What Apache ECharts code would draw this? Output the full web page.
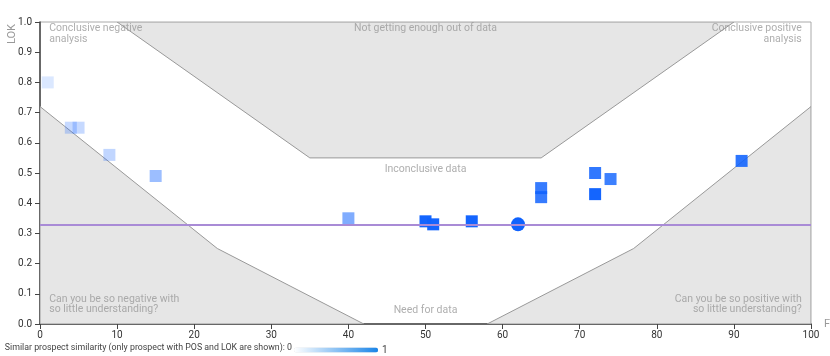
<!DOCTYPE html>
<html>
<head>
<meta charset="utf-8">
<script src="https://cdn.jsdelivr.net/npm/echarts@6/dist/echarts.min.js"></script>
<style>
  html, body { margin: 0; padding: 0; background: #fff; }
  #chart { width: 830px; height: 356px; }
</style>
</head>
<body>
<div id="chart"></div>
<script>
// 相似项目：F、LOK、相似度
const fValues = [1, 4, 5, 9, 15, 40, 50, 51, 56, 65, 65, 72, 74, 72, 91]
const lokValues = [0.80, 0.65, 0.65, 0.56, 0.49, 0.35, 0.34, 0.33, 0.34, 0.45, 0.42, 0.50, 0.48, 0.43, 0.54]
const similarity = [0.15, 0.24, 0.24, 0.26, 0.41, 0.53, 0.98, 0.98, 0.98, 0.84, 0.84, 0.86, 0.81, 0.98, 0.88]

// 当前项目
const prospect = [62, 0.33]
const lokThreshold = 0.33

// 区域多边形（F, LOK）
const regionTop = [[10, 1], [35, 0.55], [65, 0.55], [90, 1]]
const regionBottomLeft = [[0, 0.72], [23, 0.25], [42, 0], [0, 0]]
const regionBottomRight = [[100, 0.72], [77, 0.25], [58, 0], [100, 0]]
const regions = [regionTop, regionBottomLeft, regionBottomRight]

// 区域说明文字
const regionLabels = [
  { value: [1.2, 0.996], text: 'Conclusive negative\nanalysis', align: 'left', vAlign: 'top' },
  { value: [50, 0.996], text: 'Not getting enough out of data', align: 'center', vAlign: 'top' },
  { value: [98.8, 0.996], text: 'Conclusive positive\nanalysis', align: 'right', vAlign: 'top' },
  { value: [50, 0.511], text: 'Inconclusive data', align: 'center', vAlign: 'middle' },
  { value: [1.2, 0.03], text: 'Can you be so negative with\nso little understanding?', align: 'left', vAlign: 'bottom' },
  { value: [50, 0.045], text: 'Need for data', align: 'center', vAlign: 'middle' },
  { value: [98.8, 0.03], text: 'Can you be so positive with\nso little understanding?', align: 'right', vAlign: 'bottom' }
]

const fontFamily = 'Roboto, "Noto Sans", sans-serif'

const pointData = fValues.map((f, i) => [f, lokValues[i], similarity[i]])

const chart = echarts.init(document.getElementById('chart'))
const option = {
  animation: false,
  textStyle: { fontFamily: fontFamily },
  grid: {
    left: 40,
    right: 19,
    top: 22,
    bottom: 32,
    outerBoundsMode: 'none',
    containLabel: false,
    show: true,
    borderColor: '#aaa',
    borderWidth: 1
  },
  xAxis: {
    type: 'value',
    min: 0,
    max: 100,
    interval: 10,
    name: 'F',
    nameLocation: 'end',
    nameGap: 13,
    nameTextStyle: { color: '#999', fontSize: 11 },
    axisLine: { lineStyle: { color: '#444', width: 1.5 } },
    axisTick: { show: true, length: 5, lineStyle: { color: '#444' } },
    axisLabel: { color: '#333', fontSize: 10, margin: 6 },
    splitLine: { show: false }
  },
  yAxis: {
    type: 'value',
    min: 0,
    max: 1,
    interval: 0.1,
    axisLine: { show: true, lineStyle: { color: '#444', width: 1.5 } },
    axisTick: { show: true, length: 5, lineStyle: { color: '#444' } },
    axisLabel: {
      color: '#333',
      fontSize: 10,
      margin: 8,
      formatter: v => v.toFixed(1)
    },
    splitLine: { show: false }
  },
  visualMap: {
    type: 'continuous',
    seriesIndex: 2,
    dimension: 2,
    min: 0,
    max: 1,
    orient: 'horizontal',
    left: 279,
    bottom: -14,
    itemWidth: 5,
    itemHeight: 84,
    text: ['1', ''],
    textGap: 4,
    calculable: false,
    textStyle: { color: '#444', fontSize: 10 },
    inRange: { color: ['#0f62fe', '#0f62fe'], opacity: [0, 1] },
    controller: {
      inRange: { color: ['#ffffff', '#1a85e8'], opacity: [1, 1], symbolSize: [5, 5] }
    }
  },
  graphic: [
    {
      type: 'text',
      x: 292,
      y: 348,
      style: {
        text: 'Similar prospect similarity (only prospect with POS and LOK are shown): 0',
        fill: '#444',
        font: '8.8px ' + fontFamily,
        align: 'right',
        verticalAlign: 'middle'
      }
    },
    {
      type: 'text',
      x: 12,
      y: 34,
      rotation: Math.PI / 2,
      style: {
        text: 'LOK',
        fill: '#999',
        font: '11px ' + fontFamily,
        align: 'center',
        verticalAlign: 'middle'
      }
    }
  ],
  series: [
    {
      type: 'custom',
      z: 1,
      clip: true,
      data: regions.map((r, i) => i),
      renderItem: function (params, api) {
        const points = regions[params.dataIndex].map(p => api.coord(p))
        return {
          type: 'polygon',
          shape: { points: points },
          style: { fill: '#e6e6e6', stroke: '#999', lineWidth: 1 }
        }
      },
      markLine: {
        silent: true,
        symbol: 'none',
        label: { show: false },
        lineStyle: { color: '#a98bd6', width: 2, type: 'solid' },
        data: [{ yAxis: lokThreshold }]
      }
    },
    {
      type: 'scatter',
      z: 2,
      symbolSize: 0,
      silent: true,
      data: regionLabels.map(l => ({
        value: l.value,
        label: {
          show: true,
          position: 'inside',
          formatter: l.text,
          align: l.align,
          verticalAlign: l.vAlign,
          color: '#9a9a9a',
          fontSize: 10.5,
          lineHeight: 10.5
        }
      }))
    },
    {
      type: 'scatter',
      name: 'similar',
      z: 3,
      symbol: 'rect',
      symbolSize: 12,
      data: pointData
    },
    {
      type: 'scatter',
      name: 'prospect',
      z: 4,
      symbol: 'circle',
      symbolSize: 14,
      itemStyle: { color: '#0f62fe', opacity: 1 },
      data: [prospect]
    }
  ]
}
chart.setOption(option)
</script>
</body>
</html>
